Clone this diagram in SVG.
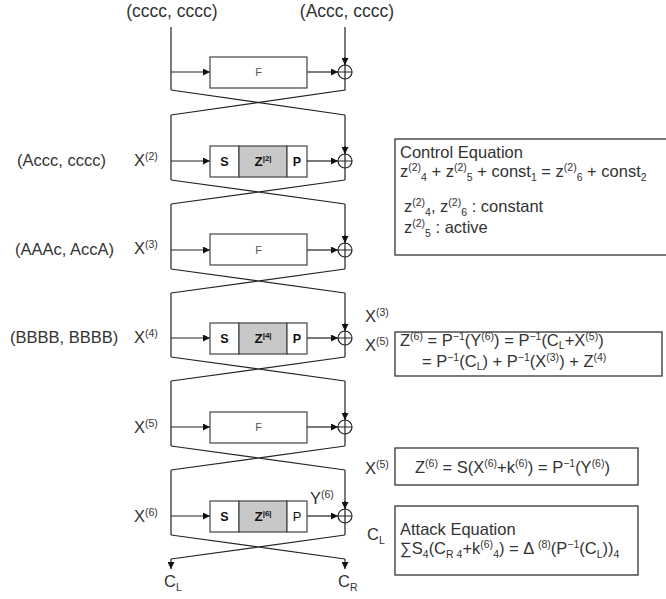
<svg xmlns="http://www.w3.org/2000/svg" width="666" height="599" viewBox="0 0 666 599">
<defs>
<marker id="ah" viewBox="0 0 10 10" refX="10" refY="5" markerWidth="7" markerHeight="7" markerUnits="userSpaceOnUse" orient="auto">
<path d="M0,0 L10,5 L0,10 z" fill="#111"/>
</marker>
<style>
text{font-family:"Liberation Sans",Arial,sans-serif;fill:#333;}
.t{font-size:16.5px;}
.sup{font-size:10.5px;}
.ln{stroke:#222;stroke-width:1.2;fill:none;}
.ar{stroke:#222;stroke-width:1.2;fill:none;marker-end:url(#ah);}
.box{fill:#fff;stroke:#444;stroke-width:1.2;}
.zb{fill:#c8c8c8;stroke:#444;stroke-width:1.2;}
.eq{fill:#fff;stroke:#333;stroke-width:1.3;}
.f{font-size:11px;fill:#555;text-anchor:middle;}
.b{font-size:12.5px;font-weight:bold;fill:#111;text-anchor:middle;}
.xor{fill:#fff;stroke:#222;stroke-width:1.2;}
</style>
</defs>
<rect width="666" height="599" fill="#fff"/>

<g id="connectors">
<path class="ln" d="M171,27 V90 M345,27 V65"/>
<path class="ar" d="M345,57 V65"/>
<path class="ar" d="M171,72 H210"/>
<path class="ar" d="M307,72 H338"/>
<path class="ln" d="M345,79 V90 L171,115 M171,90 L345,115"/>
<path class="ln" d="M171,115 V180 M345,115 V154 M345,168 V180"/>
<path class="ar" d="M345,146 V154"/>
<path class="ar" d="M171,161 H210"/>
<path class="ar" d="M307,161 H338"/>
<path class="ln" d="M171,180 L345,204 M345,180 L171,204"/>
<path class="ln" d="M171,204 V269 M345,204 V243 M345,257 V269"/>
<path class="ar" d="M345,235 V243"/>
<path class="ar" d="M171,250 H210"/>
<path class="ar" d="M307,250 H338"/>
<path class="ln" d="M171,269 L345,293 M345,269 L171,293"/>
<path class="ln" d="M171,293 V357 M345,293 V331 M345,345 V357"/>
<path class="ar" d="M345,323 V331"/>
<path class="ar" d="M171,338 H210"/>
<path class="ar" d="M307,338 H338"/>
<path class="ln" d="M171,357 L345,381 M345,357 L171,381"/>
<path class="ln" d="M171,381 V446 M345,381 V420 M345,434 V446"/>
<path class="ar" d="M345,412 V420"/>
<path class="ar" d="M171,427 H210"/>
<path class="ar" d="M307,427 H338"/>
<path class="ln" d="M171,446 L345,470 M345,446 L171,470"/>
<path class="ln" d="M171,470 V535 M345,470 V509 M345,523 V535"/>
<path class="ar" d="M345,501 V509"/>
<path class="ar" d="M171,516 H210"/>
<path class="ar" d="M307,516 H338"/>
<path class="ln" d="M171,535 L345,559 M345,535 L171,559"/>
<path class="ar" d="M171,559 V569"/>
<path class="ar" d="M345,559 V569"/>
</g>

<g id="xors">
<g id="xor1"><circle class="xor" cx="345" cy="72" r="7"/><path class="ln" d="M338,72 H352 M345,65 V79"/></g>
<g id="xor2"><circle class="xor" cx="345" cy="161" r="7"/><path class="ln" d="M338,161 H352 M345,154 V168"/></g>
<g id="xor3"><circle class="xor" cx="345" cy="250" r="7"/><path class="ln" d="M338,250 H352 M345,243 V257"/></g>
<g id="xor4"><circle class="xor" cx="345" cy="338" r="7"/><path class="ln" d="M338,338 H352 M345,331 V345"/></g>
<g id="xor5"><circle class="xor" cx="345" cy="427" r="7"/><path class="ln" d="M338,427 H352 M345,420 V434"/></g>
<g id="xor6"><circle class="xor" cx="345" cy="516" r="7"/><path class="ln" d="M338,516 H352 M345,509 V523"/></g>
</g>

<g id="f1"><rect class="box" x="210" y="57" width="97" height="31"/><text class="f" x="258.5" y="76">F</text></g>
<g id="spz2">
<rect class="box" x="210" y="146" width="29" height="31"/>
<rect class="zb" x="239" y="146" width="48" height="31"/>
<rect class="box" x="287" y="146" width="20" height="31"/>
<text class="b" x="224.5" y="166">S</text>
<text class="b" x="263" y="166" style="font-size:13.5px">Z<tspan font-size="8" dy="-5">|2|</tspan></text>
<text class="b" x="297" y="166">P</text>
</g>
<g id="f3"><rect class="box" x="210" y="234" width="97" height="31"/><text class="f" x="258.5" y="254">F</text></g>
<g id="spz4">
<rect class="box" x="210" y="323" width="29" height="31"/>
<rect class="zb" x="239" y="323" width="48" height="31"/>
<rect class="box" x="287" y="323" width="20" height="31"/>
<text class="b" x="224.5" y="343">S</text>
<text class="b" x="263" y="343" style="font-size:13.5px">Z<tspan font-size="8" dy="-5">|4|</tspan></text>
<text class="b" x="297" y="343">P</text>
</g>
<g id="f5"><rect class="box" x="210" y="412" width="97" height="31"/><text class="f" x="258.5" y="431">F</text></g>
<g id="spz6">
<rect class="box" x="210" y="501" width="29" height="31"/>
<rect class="zb" x="239" y="501" width="48" height="31"/>
<rect class="box" x="287" y="501" width="20" height="31"/>
<text class="b" x="224.5" y="521">S</text>
<text class="b" x="263" y="521" style="font-size:13.5px">Z<tspan font-size="8" dy="-5">|6|</tspan></text>
<text class="f" x="297" y="521" style="font-size:13px;fill:#111">P</text>
</g>

<g id="labels">
<text class="t" x="172" y="17" text-anchor="middle" style="font-size:17.5px">(cccc, cccc)</text>
<text class="t" x="347" y="17" text-anchor="middle" style="font-size:17.5px">(Accc, cccc)</text>
<text class="t" x="17" y="166">(Accc, cccc)</text>
<text class="t" x="15" y="255">(AAAc, AccA)</text>
<text class="t" x="10" y="343">(BBBB, BBBB)</text>
<text class="t" x="134" y="166">X<tspan class="sup" dy="-6">(2)</tspan></text>
<text class="t" x="134" y="254">X<tspan class="sup" dy="-6">(3)</tspan></text>
<text class="t" x="134" y="343">X<tspan class="sup" dy="-6">(4)</tspan></text>
<text class="t" x="134" y="433">X<tspan class="sup" dy="-6">(5)</tspan></text>
<text class="t" x="134" y="522">X<tspan class="sup" dy="-6">(6)</tspan></text>
<text class="t" x="310" y="504">Y<tspan class="sup" dy="-6">(6)</tspan></text>
<text class="t" x="365" y="322">X<tspan class="sup" dy="-6">(3)</tspan></text>
<text class="t" x="365" y="351">X<tspan class="sup" dy="-6">(5)</tspan></text>
<text class="t" x="365" y="474">X<tspan class="sup" dy="-6">(5)</tspan></text>
<text class="t" x="367" y="540">C<tspan class="sup" dy="4">L</tspan></text>
<text class="t" x="164" y="587">C<tspan class="sup" dy="4">L</tspan></text>
<text class="t" x="338" y="587">C<tspan class="sup" dy="4">R</tspan></text>
</g>

<g id="control">
<rect class="eq" x="395" y="139" width="280" height="116"/>
<text class="t" x="400" y="158">Control Equation</text>
<text class="t" x="400" y="177">z<tspan class="sup" dy="-6">(2)</tspan><tspan class="sup" dy="10">4</tspan><tspan dy="-4"> + z</tspan><tspan class="sup" dy="-6">(2)</tspan><tspan class="sup" dy="10">5</tspan><tspan dy="-4"> + const</tspan><tspan class="sup" dy="4">1</tspan><tspan dy="-4"> = z</tspan><tspan class="sup" dy="-6">(2)</tspan><tspan class="sup" dy="10">6</tspan><tspan dy="-4"> + const</tspan><tspan class="sup" dy="4">2</tspan></text>
<text class="t" x="404" y="212">z<tspan class="sup" dy="-6">(2)</tspan><tspan class="sup" dy="10">4</tspan><tspan dy="-4">, z</tspan><tspan class="sup" dy="-6">(2)</tspan><tspan class="sup" dy="10">6</tspan><tspan dy="-4"> : constant</tspan></text>
<text class="t" x="404" y="233">z<tspan class="sup" dy="-6">(2)</tspan><tspan class="sup" dy="10">5</tspan><tspan dy="-4"> : active</tspan></text>
</g>

<g id="eq-z6">
<rect class="eq" x="395" y="332" width="267" height="44"/>
<text class="t" x="400" y="346">Z<tspan class="sup" dy="-6">(6)</tspan><tspan dy="6"> = P</tspan><tspan class="sup" dy="-6">−1</tspan><tspan dy="6">(Y</tspan><tspan class="sup" dy="-6">(6)</tspan><tspan dy="6">) = P</tspan><tspan class="sup" dy="-6">−1</tspan><tspan dy="6">(C</tspan><tspan class="sup" dy="3">L</tspan><tspan dy="-3">+X</tspan><tspan class="sup" dy="-6">(5)</tspan><tspan dy="6">)</tspan></text>
<text class="t" x="422" y="367">= P<tspan class="sup" dy="-6">−1</tspan><tspan dy="6">(C</tspan><tspan class="sup" dy="3">L</tspan><tspan dy="-3">) + P</tspan><tspan class="sup" dy="-6">−1</tspan><tspan dy="6">(X</tspan><tspan class="sup" dy="-6">(3)</tspan><tspan dy="6">) + Z</tspan><tspan class="sup" dy="-6">(4)</tspan></text>
</g>

<g id="eq-s">
<rect class="eq" x="395" y="448" width="243" height="37"/>
<text class="t" x="415" y="473">Z<tspan class="sup" dy="-6">(6)</tspan><tspan dy="6"> = S(X</tspan><tspan class="sup" dy="-6">(6)</tspan><tspan dy="6">+k</tspan><tspan class="sup" dy="-6">(6)</tspan><tspan dy="6">) = P</tspan><tspan class="sup" dy="-6">−1</tspan><tspan dy="6">(Y</tspan><tspan class="sup" dy="-6">(6)</tspan><tspan dy="6">)</tspan></text>
</g>

<g id="attack">
<rect class="eq" x="395" y="506" width="243" height="69"/>
<text class="t" x="400" y="535">Attack Equation</text>
<text class="t" x="400" y="554">∑S<tspan class="sup" dy="4">4</tspan><tspan dy="-4">(C</tspan><tspan class="sup" dy="4">R 4</tspan><tspan dy="-4">+k</tspan><tspan class="sup" dy="-6">(6)</tspan><tspan class="sup" dy="10">4</tspan><tspan dy="-4">) = Δ </tspan><tspan class="sup" dy="-6">(8)</tspan><tspan dy="6">(P</tspan><tspan class="sup" dy="-6">−1</tspan><tspan dy="6">(C</tspan><tspan class="sup" dy="4">L</tspan><tspan dy="-4">))</tspan><tspan class="sup" dy="4">4</tspan></text>
</g>
</svg>
